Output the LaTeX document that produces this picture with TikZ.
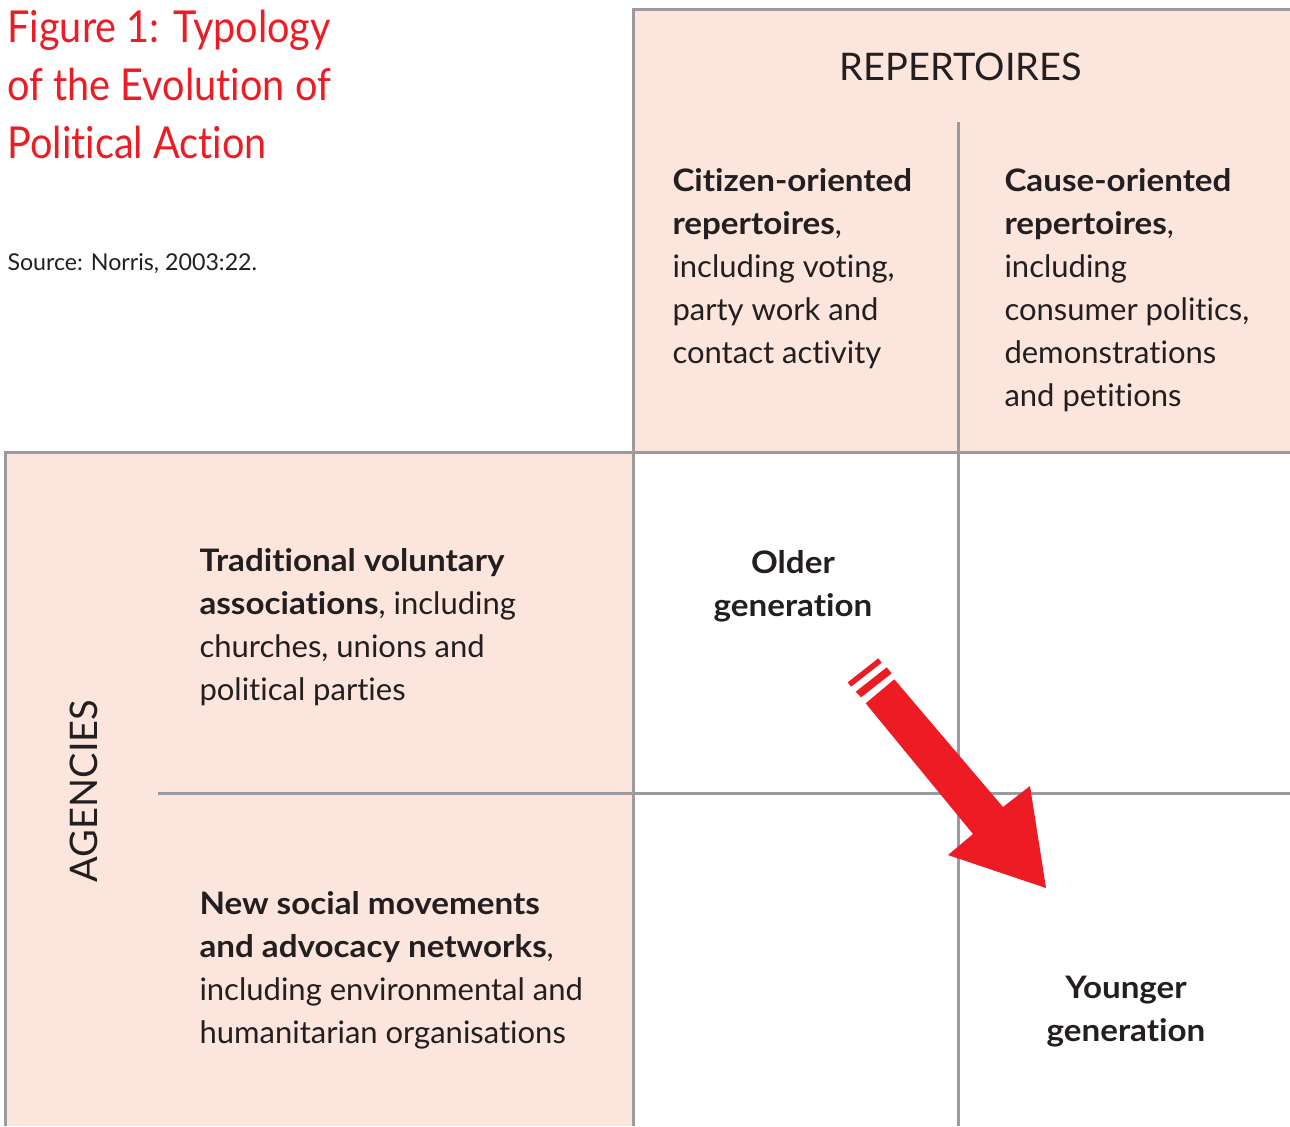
\documentclass[tikz,border=0pt]{standalone}
\usepackage{fontspec}
\setmainfont{Lato}[Ligatures={NoCommon,NoRare},BoldFeatures={FakeStretch=1.07}]
\newfontfamily\titlefont{Lato}[Ligatures={NoCommon,NoRare},FakeStretch=0.9]
\definecolor{panelpink}{RGB}{252,229,220}
\definecolor{gridgray}{RGB}{155,155,158}
\definecolor{figred}{RGB}{237,28,36}
\definecolor{inkdark}{RGB}{35,31,32}
\newcommand{\bodysize}{\fontsize{15.5}{21.5}\selectfont}
\tikzset{every picture/.style={line width=1.5pt}}
\tikzset{
  bodytext/.style={anchor=north west, inner sep=0pt, align=left, text=inkdark, font=\bodysize},
  gentext/.style={anchor=north, inner sep=0pt, align=center, text=inkdark, font=\bodysize\bfseries},
  headtext/.style={inner sep=0pt, text=inkdark, font=\fontsize{19}{23}\selectfont}
}
\begin{document}
\begin{tikzpicture}[x=0.5pt,y=0.5pt,yscale=-1,xscale=1]
\useasboundingbox (0,0) rectangle (1290,1126);

%Shape: Rectangle
\fill [panelpink] (633,9) rectangle (1290,452) ;
%Shape: Rectangle
\fill [panelpink] (5,452) rectangle (633,1126) ;

%Straight Lines
\draw [gridgray]    (632,9) -- (1290,9) ;
%Straight Lines
\draw [gridgray]    (633,9) -- (633,1126) ;
%Straight Lines
\draw [gridgray]    (4.25,452) -- (1290,452) ;
%Straight Lines
\draw [gridgray]    (5,452) -- (5,1126) ;
%Straight Lines
\draw [gridgray]    (958,122) -- (958,1126) ;
%Straight Lines
\draw [gridgray]    (158,793) -- (1290,793) ;

%Shape: Arrow
\fill [figred] (865.7,703.3) -- (894.3,679.3) -- (1003,807) -- (1030,786) -- (1046,888) -- (948,855) -- (973,834) -- cycle ;
%Shape: Stripe
\fill [figred] (855.7,691.7) -- (886.7,667.3) -- (891.7,673.3) -- (861,697.3) -- cycle ;
%Shape: Stripe
\fill [figred] (847.7,682.3) -- (878.3,658.3) -- (881.7,662.7) -- (851,686.7) -- cycle ;

% Text Node
\node (title) [anchor=north west, inner sep=0pt, align=left, text=figred, font=\titlefont\fontsize{22}{29}\selectfont] at (6,9) {Figure 1: Typology\\of the Evolution of\\Political Action};
% Text Node
\node (source) [anchor=north west, inner sep=0pt, text=inkdark, font=\fontsize{11.6}{13}\selectfont] at (6,252) {Source: Norris, 2003:22.};
% Text Node
\node (repertoires) [headtext] at (961,67) {REPERTOIRES};
% Text Node
\node (agencies) [headtext, rotate=90] at (84,791) {AGENCIES};
% Text Node
\node (citizen) [bodytext] at (671,167) {\textbf{Citizen-oriented}\\\textbf{repertoires},\\including voting,\\party work and\\contact activity};
% Text Node
\node (cause) [bodytext] at (1003,167) {\textbf{Cause-oriented}\\\textbf{repertoires},\\including\\consumer politics,\\demonstrations\\and petitions};
% Text Node
\node (traditional) [bodytext] at (198,547) {\textbf{Traditional voluntary}\\\textbf{associations}, including\\churches, unions and\\political parties};
% Text Node
\node (newsocial) [bodytext] at (198,890) {\textbf{New social movements}\\\textbf{and advocacy networks},\\including environmental and\\humanitarian organisations};
% Text Node
\node (older) [gentext] at (793,549) {Older\\generation};
% Text Node
\node (younger) [gentext] at (1126,975) {Younger\\generation};

\end{tikzpicture}
\end{document}
